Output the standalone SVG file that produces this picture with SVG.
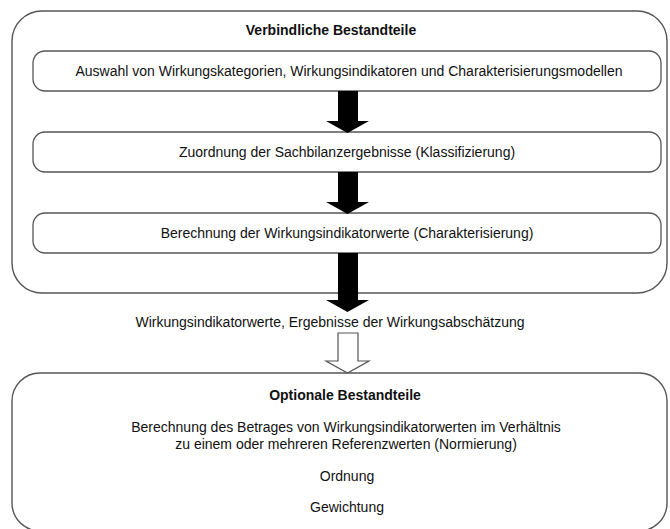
<svg xmlns="http://www.w3.org/2000/svg" width="670" height="529" viewBox="0 0 670 529">
  <defs>
    <style>
      .frame { fill: none; stroke: #555; stroke-width: 1.4; }
      .step { fill: #fff; stroke: #555; stroke-width: 1.3; }
      .t { font-family: "Liberation Sans", Arial, sans-serif; font-size: 14px; fill: #111; text-anchor: middle; }
      .b { font-weight: bold; }
      .solid { fill: #000; stroke: none; }
      .hollow { fill: #fff; stroke: #555; stroke-width: 1.2; }
    </style>
  </defs>
  <rect width="670" height="529" fill="#fff"/>

  <!-- mandatory elements -->
  <g id="mandatory">
    <rect class="frame" x="12" y="11" width="655" height="282" rx="30" ry="30"/>
    <text class="t b" x="331" y="35">Verbindliche Bestandteile</text>
  </g>

  <g id="selection">
    <rect class="step" x="33" y="51" width="628" height="40" rx="12" ry="12"/>
    <text class="t" x="349" y="76">Auswahl von Wirkungskategorien, Wirkungsindikatoren und Charakterisierungsmodellen</text>
  </g>

  <g id="classification">
    <rect class="step" x="33" y="132" width="628" height="40" rx="12" ry="12"/>
    <text class="t" x="347" y="157">Zuordnung der Sachbilanzergebnisse (Klassifizierung)</text>
  </g>

  <g id="characterisation">
    <rect class="step" x="33" y="213" width="628" height="40" rx="12" ry="12"/>
    <text class="t" x="347" y="238">Berechnung der Wirkungsindikatorwerte (Charakterisierung)</text>
  </g>

  <g id="results">
    <text class="t" x="330" y="327">Wirkungsindikatorwerte, Ergebnisse der Wirkungsabschätzung</text>
  </g>

  <!-- optional elements -->
  <g id="optional">
    <rect class="frame" x="12" y="373" width="655" height="158" rx="28" ry="28"/>
    <text class="t b" x="345" y="400">Optionale Bestandteile</text>
    <text class="t" x="346" y="432">Berechnung des Betrages von Wirkungsindikatorwerten im Verhältnis</text>
    <text class="t" x="346" y="449">zu einem oder mehreren Referenzwerten (Normierung)</text>
    <text class="t" x="347" y="481">Ordnung</text>
    <text class="t" x="347" y="512">Gewichtung</text>
  </g>

  <!-- connectors -->
  <g id="connectors">
    <path class="solid" d="M338 91 H358 V121 H369 L347.5 133 L326 121 H338 Z"/>
    <path class="solid" d="M338 172 H358 V202 H369 L347.5 214 L326 202 H338 Z"/>
    <path class="solid" d="M338 253 H358 V300 H369 L347.5 312 L326 300 H338 Z"/>
    <path class="hollow" d="M338 333 H358 V361 H369 L347.5 373 L326 361 H338 Z"/>
  </g>
</svg>
